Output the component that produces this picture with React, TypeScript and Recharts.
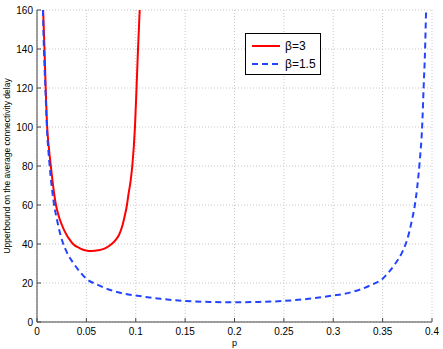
import { LineChart, Line, XAxis, YAxis, CartesianGrid, Legend } from 'recharts';

// readings, p vs upper bound
const beta3Points: [number, number][] = [
  [0.0062, 160], [0.0076, 140], [0.0088, 120], [0.0103, 100], [0.0119, 90],
  [0.014, 80], [0.0176, 65], [0.0192, 60], [0.0216, 55], [0.025, 50],
  [0.03, 44.6], [0.0333, 42.1], [0.0365, 40], [0.0435, 37.8], [0.0495, 36.7],
  [0.0554, 36.4], [0.062, 36.8], [0.0689, 37.8], [0.0756, 40], [0.0795, 42],
  [0.083, 44.6], [0.0868, 50], [0.0891, 55], [0.0911, 60], [0.0925, 65],
  [0.0947, 72], [0.0965, 80], [0.0992, 100], [0.1008, 120], [0.1023, 140],
  [0.104, 160],
];

const beta15Points: [number, number][] = [
  [0.006, 160], [0.007, 140], [0.0085, 120], [0.01, 100], [0.0125, 82],
  [0.015, 69], [0.018, 58], [0.02, 53], [0.0236, 45], [0.0263, 40.5],
  [0.03, 36], [0.0371, 30], [0.0439, 25.5], [0.05, 22.2], [0.0608, 19.2],
  [0.0726, 16.7], [0.0894, 14.4], [0.1, 13.6], [0.125, 11.9], [0.15, 10.8],
  [0.175, 10.3], [0.2, 10.1], [0.225, 10.3], [0.25, 10.8], [0.275, 11.9],
  [0.3, 13.6], [0.3106, 14.4], [0.3274, 16.7], [0.3392, 19.2], [0.35, 22.2],
  [0.3561, 25.5], [0.3629, 30], [0.37, 36], [0.3737, 40.5], [0.3764, 45],
  [0.38, 53], [0.382, 58], [0.385, 69], [0.3875, 82], [0.39, 100],
  [0.3915, 120], [0.393, 140], [0.394, 160],
];

const xTicks = [0, 0.05, 0.1, 0.15, 0.2, 0.25, 0.3, 0.35, 0.4];
const yTicks = [0, 20, 40, 60, 80, 100, 120, 140, 160];

const series = [
  { name: 'β=3', points: beta3Points, color: '#ff0000', dash: undefined as string | undefined },
  { name: 'β=1.5', points: beta15Points, color: '#2244ff', dash: '6 4' },
];

const FONT = '"Liberation Sans", Arial, Helvetica, sans-serif';
const AXIS = '#444';

const toRows = (pts: [number, number][]) => pts.map(([x, y]) => ({ x, y }));

function LeftTick({ x, y, payload }: any) {
  return (
    <g>
      <line x1={x} x2={x + 4} y1={y} y2={y} stroke={AXIS} />
      <text x={x - 4} y={y} dy={3.5} textAnchor="end" fontSize={10} fill="#000" fontFamily={FONT}>
        {payload.value}
      </text>
    </g>
  );
}

function BottomTick({ x, y, payload }: any) {
  return (
    <g>
      <line x1={x} x2={x} y1={y} y2={y - 4} stroke={AXIS} />
      <text x={x} y={y + 13} textAnchor="middle" fontSize={10} fill="#000" fontFamily={FONT}>
        {payload.value}
      </text>
    </g>
  );
}

function TopTick({ x, y }: any) {
  return <line x1={x} x2={x} y1={y} y2={y + 4} stroke={AXIS} />;
}

function RightTick({ x, y }: any) {
  return <line x1={x} x2={x - 4} y1={y} y2={y} stroke={AXIS} />;
}

function LegendBox() {
  return (
    <div
      style={{
        width: 76,
        height: 42,
        boxSizing: 'border-box',
        border: '1px solid #000',
        background: '#fff',
        fontFamily: FONT,
        fontSize: 12,
        padding: '3px 0 0 6px',
      }}
    >
      {series.map(s => (
        <div key={s.name} style={{ display: 'flex', alignItems: 'center', height: 18 }}>
          <svg width={29} height={6} style={{ marginRight: 4 }}>
            <line x1={0} x2={28} y1={3} y2={3} stroke={s.color} strokeWidth={2} strokeDasharray={s.dash} />
          </svg>
          <span style={{ color: '#000' }}>{s.name}</span>
        </div>
      ))}
    </div>
  );
}

export default function App() {
  return (
    <div style={{ position: 'absolute', left: 0, top: 0, background: '#fff', fontFamily: FONT }}>
      <LineChart width={443} height={349} margin={{ top: 10, right: 11, left: 0, bottom: 0 }}>
        <CartesianGrid stroke="#c8c8c8" strokeDasharray="1 2" />
        <XAxis
          dataKey="x"
          type="number"
          domain={[0, 0.4]}
          ticks={xTicks}
          interval={0}
          height={27}
          stroke={AXIS}
          tickSize={0}
          tickMargin={0}
          tickLine={false}
          tick={<BottomTick />}
          allowDataOverflow
          label={({ viewBox }: any) => (
            <text x={viewBox.x + viewBox.width / 2} y={viewBox.y + 24} textAnchor="middle" fontSize={9} fontFamily={FONT}>
              p
            </text>
          )}
        />
        <XAxis
          xAxisId="top"
          orientation="top"
          type="number"
          domain={[0, 0.4]}
          ticks={xTicks}
          interval={0}
          height={0}
          stroke={AXIS}
          tickSize={0}
          tickMargin={0}
          tickLine={false}
          tick={<TopTick />}
        />
        <YAxis
          type="number"
          domain={[0, 160]}
          ticks={yTicks}
          interval={0}
          width={37}
          stroke={AXIS}
          tickSize={0}
          tickMargin={0}
          tickLine={false}
          tick={<LeftTick />}
          allowDataOverflow
          label={({ viewBox }: any) => {
            const cx = 7;
            const cy = viewBox.y + viewBox.height / 2;
            return (
              <text x={cx} y={cy} transform={`rotate(-90 ${cx} ${cy})`} textAnchor="middle" dy={3} fontSize={8.5} fontFamily={FONT}>
                Upperbound on the average connectivity delay
              </text>
            );
          }}
        />
        <YAxis
          yAxisId="right"
          orientation="right"
          type="number"
          domain={[0, 160]}
          ticks={yTicks}
          interval={0}
          width={0}
          stroke={AXIS}
          tickSize={0}
          tickMargin={0}
          tickLine={false}
          tick={<RightTick />}
        />
        <Legend
          layout="vertical"
          align="center"
          verticalAlign="middle"
          content={() => <LegendBox />}
          wrapperStyle={{ left: 245, top: 33, width: 76, height: 42 }}
        />
        {series.map(s => (
          <Line
            key={s.name}
            name={s.name}
            data={toRows(s.points)}
            dataKey="y"
            type="monotone"
            stroke={s.color}
            strokeWidth={2}
            strokeDasharray={s.dash}
            dot={false}
            activeDot={false}
            isAnimationActive={false}
          />
        ))}
      </LineChart>
    </div>
  );
}
